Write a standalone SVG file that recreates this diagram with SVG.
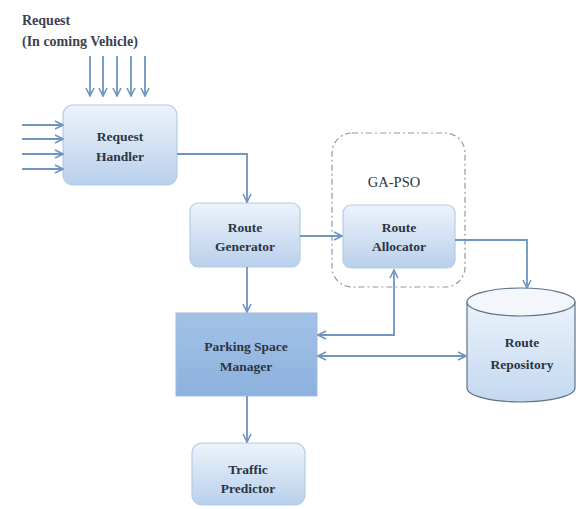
<svg xmlns="http://www.w3.org/2000/svg" width="582" height="509" viewBox="0 0 582 509">
<defs>
<linearGradient id="g1" x1="0" y1="0" x2="0" y2="1">
<stop offset="0" stop-color="#edf3fb"/><stop offset="1" stop-color="#b8d0eb"/>
</linearGradient>
<linearGradient id="g2" x1="0" y1="0" x2="0" y2="1">
<stop offset="0" stop-color="#a3c2e6"/><stop offset="1" stop-color="#8cb1de"/>
</linearGradient>
<linearGradient id="g3" x1="0" y1="0" x2="0" y2="1">
<stop offset="0" stop-color="#eaf2fb"/><stop offset="1" stop-color="#c3d8ef"/>
</linearGradient>
<marker id="ah" viewBox="0 0 10 10" refX="9" refY="5" markerWidth="10" markerHeight="10" orient="auto-start-reverse" markerUnits="userSpaceOnUse">
<path d="M1,1 L9,5 L1,9" fill="none" stroke="#6f95c0" stroke-width="1.6"/>
</marker>
</defs>
<style>
.box{fill:url(#g1);stroke:#b5cce6;stroke-width:1.2}
.t{font-family:'Liberation Serif','DejaVu Serif',serif;font-weight:bold;font-size:13.5px;fill:#2b3544;text-anchor:middle}
.l{font-family:'Liberation Serif','DejaVu Serif',serif;font-weight:bold;font-size:14px;fill:#3a4250}
.c{fill:none;stroke:#6f95c0;stroke-width:1.8}
</style>
<rect width="582" height="509" fill="#ffffff"/>
<g id="label-request">
<text class="l" x="22" y="25" font-family="Liberation Serif">Request</text>
<text class="l" x="22" y="46" font-family="Liberation Serif">(In coming Vehicle)</text>
</g>
<g id="ga-pso">
<rect x="332" y="133" width="133" height="154" rx="20" fill="none" stroke="#8a9aab" stroke-width="1.2" stroke-dasharray="6,3,2,3"/>
<text x="394" y="187" font-family="'Liberation Serif','DejaVu Serif',serif" font-size="14.5" fill="#2b3544" text-anchor="middle">GA-PSO</text>
</g>
<g id="request-handler">
<rect class="box" x="63" y="105" width="114" height="80" rx="10"/>
<text class="t" x="120" y="141">Request</text>
<text class="t" x="120" y="161">Handler</text>
</g>
<g id="route-generator">
<rect class="box" x="190" y="203" width="110" height="64" rx="8"/>
<text class="t" x="245" y="232">Route</text>
<text class="t" x="245" y="251">Generator</text>
</g>
<g id="route-allocator">
<rect class="box" x="343" y="205" width="112" height="63" rx="8"/>
<text class="t" x="399" y="232">Route</text>
<text class="t" x="399" y="251">Allocator</text>
</g>
<g id="parking-space-manager">
<rect x="176" y="313" width="141" height="83" fill="url(#g2)" stroke="#9dbbe0" stroke-width="1"/>
<text class="t" x="246" y="351">Parking Space</text>
<text class="t" x="246" y="371">Manager</text>
</g>
<g id="traffic-predictor">
<rect class="box" x="192" y="443" width="113" height="62" rx="10"/>
<text class="t" x="248" y="474">Traffic</text>
<text class="t" x="248" y="493">Predictor</text>
</g>
<g id="route-repository">
<path d="M467,302 L467,388 A54,14 0 0 0 575,388 L575,302" fill="url(#g3)" stroke="#5f7288" stroke-width="1.2"/>
<ellipse cx="521" cy="302" rx="54" ry="14" fill="#f3f7fc" stroke="#5f7288" stroke-width="1.2"/>
<text class="t" x="522" y="347">Route</text>
<text class="t" x="522" y="369">Repository</text>
</g>
<g id="connectors">
<path class="c" marker-end="url(#ah)" d="M90,56 V96"/>
<path class="c" marker-end="url(#ah)" d="M103,56 V96"/>
<path class="c" marker-end="url(#ah)" d="M117,56 V96"/>
<path class="c" marker-end="url(#ah)" d="M131,56 V96"/>
<path class="c" marker-end="url(#ah)" d="M145,56 V96"/>
<path class="c" marker-end="url(#ah)" d="M22,125 H63"/>
<path class="c" marker-end="url(#ah)" d="M22,139 H63"/>
<path class="c" marker-end="url(#ah)" d="M22,154 H63"/>
<path class="c" marker-end="url(#ah)" d="M22,169 H63"/>
<path class="c" marker-end="url(#ah)" d="M177,154 H247 V202"/>
<path class="c" marker-end="url(#ah)" d="M300,236 H342"/>
<path class="c" marker-end="url(#ah)" d="M455,240 H527 V288"/>
<path class="c" marker-end="url(#ah)" d="M247,267 V312"/>
<path class="c" marker-end="url(#ah)" d="M247,396 V442"/>
<path class="c" marker-start="url(#ah)" marker-end="url(#ah)" d="M318,335 H394 V270"/>
<path class="c" marker-start="url(#ah)" marker-end="url(#ah)" d="M318,356 H466"/>
</g>
</svg>
